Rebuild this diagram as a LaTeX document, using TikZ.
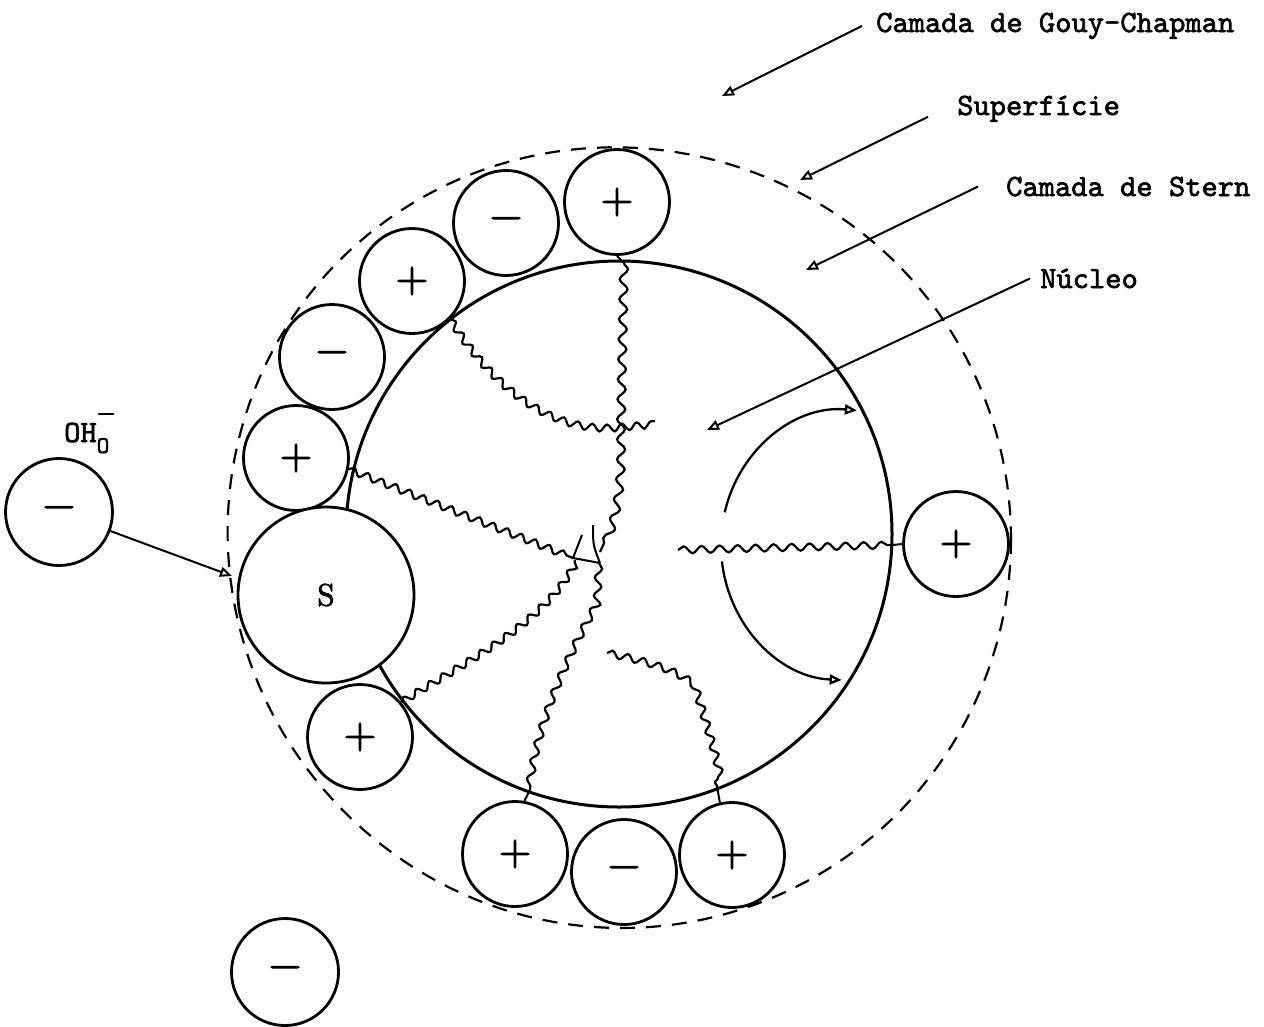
\documentclass[tikz,border=0pt]{standalone}
\usepackage{fontspec}
\newfontfamily\twfont{lmmono10-regular.otf}[FakeBold=2]
\newfontfamily\rmbfont{lmroman10-regular.otf}[FakeBold=2.5]
\usetikzlibrary{arrows.meta,decorations.pathmorphing}
\begin{document}
\begin{tikzpicture}[x=1pt,y=-1pt,
  ion/.style={circle,draw,fill=white,line width=2.8pt,minimum size=105pt,inner sep=0pt,
    font=\fontsize{42}{42}\rmbfont},
  wavy/.style={line width=2.2pt,decorate,
    decoration={snake,segment length=15pt,amplitude=3.5pt}},
  plain/.style={line width=2pt},
  lbl/.style={font=\fontsize{31}{31}\twfont,inner sep=0pt},
  tip/.style={-{Triangle[open,length=12pt,width=10pt]}},
  arr/.style={line width=2pt,tip},
  ]
\useasboundingbox (0,0) rectangle (1264,1026);

% outer (dashed) boundary, hand-drawn: slightly wider towards the upper left
\draw[line width=2.2pt,dash pattern=on 15pt off 11pt]
  plot[domain=0:360,samples=181,variable=\t]
  ({622+(389+8*(max(0,cos(\t-215)))^2)*cos(\t)},{539+(389+8*(max(0,cos(\t-215)))^2)*sin(\t)}) -- cycle;
% core
\node[circle,draw,line width=3pt,minimum size=546pt,inner sep=0pt] (core) at (619,534) {};

% ions
\node[ion] (p1) at (617,202) {+};
\node[ion] (m1) at (506,223) {−};
\node[ion] (p2) at (412,281) {+};
\node[ion] (m2) at (332,357) {−};
\node[ion] (p3) at (296,458) {+};
\node[ion,minimum size=176pt,font=\fontsize{31}{31}\rmbfont] (s) at (326,595) {S};
\node[ion] (p4) at (360,737) {+};
\node[ion] (p5) at (515,854) {+};
\node[ion] (m3) at (624,872) {−};
\node[ion] (p6) at (732,855) {+};
\node[ion] (p7) at (956,544) {+};
\node[ion,minimum size=107pt] (oh) at (59,512) {−};
\node[ion,minimum size=107pt] (m4) at (285,972) {−};

% OH label
\node[font=\fontsize{31}{31}\twfont,anchor=base west,inner sep=0pt] (ohl) at (64,442)
  {OH\makebox[0pt][l]{\raisebox{22pt}{\fontsize{24}{24}\rmbfont −}}\raisebox{-11pt}{\fontsize{24}{24}\twfont O}};

% labels
\node[lbl,anchor=base west] (gc) at (876,32) {Camada de Gouy-Chapman};
\node[lbl,anchor=base west] (sup) at (957,115) {Superfície};
\node[lbl,anchor=base west] (stern) at (1006,196) {Camada de Stern};
\node[lbl,anchor=base west] (nuc) at (1040,288) {Núcleo};

\coordinate (gct) at (722,96);
\coordinate (supt) at (800,180);
\coordinate (stt) at (806,270);
\coordinate (nuct) at (707,430);
\coordinate (oht) at (232,576);
\draw[arr] ([xshift=-14pt]gc.west) -- (gct);
\draw[arr] ([xshift=-29pt,yshift=-8pt]sup.west) -- (supt);
\draw[arr] ([xshift=-28pt]stern.west) -- (stt);
\draw[arr] ([xshift=-10pt]nuc.west) -- (nuct);
\draw[arr] (oh) -- (oht);

% rotation arrows
\draw[line width=2.3pt,tip]
  (846,545) ++(-166:125 and 135) arc[start angle=-166,end angle=-85,x radius=125,y radius=135];
\draw[line width=2.3pt,tip]
  (846,545) ++(-187:125 and 135) arc[start angle=-187,end angle=-268,x radius=125,y radius=135];

% wavy chains
\draw[wavy] (p2.-45) .. controls (495,390) and (555,432) .. (620,424) -- (655,421);
\draw[plain] (p1.south) -- (624,263);
\draw[wavy,decoration={segment length=20pt,amplitude=4pt}] (624,263) -- (621,423) .. controls (623,490) and (615,520) .. (600,552);
\draw[wavy] (p3.-12) -- (573,558);
\draw[plain] (573,558) -- (600,563);
\draw[plain] (593,525) .. controls (593,545) .. (600,563);
\draw[plain] (582,535) -- (573,558);
\draw[wavy] (p4.40) .. controls (460,665) and (545,625) .. (575,560);
\draw[wavy,decoration={segment length=18pt,amplitude=3.5pt}] (599,563) -- (597,603) .. controls (565,660) and (535,730) .. (530,790);
\draw[plain] (530,790) -- (p5.80);
\draw[wavy,decoration={segment length=16pt,amplitude=3.5pt}] (607,653) .. controls (640,660) and (670,668) .. (688,682) .. controls (700,720) and (712,760) .. (718,792);
\draw[plain] (718,792) -- (p6.103);
\draw[wavy,decoration={segment length=18pt}] (678,550) -- (893,545);
\draw[plain] (893,545) -- (p7.west);
\end{tikzpicture}
\end{document}
